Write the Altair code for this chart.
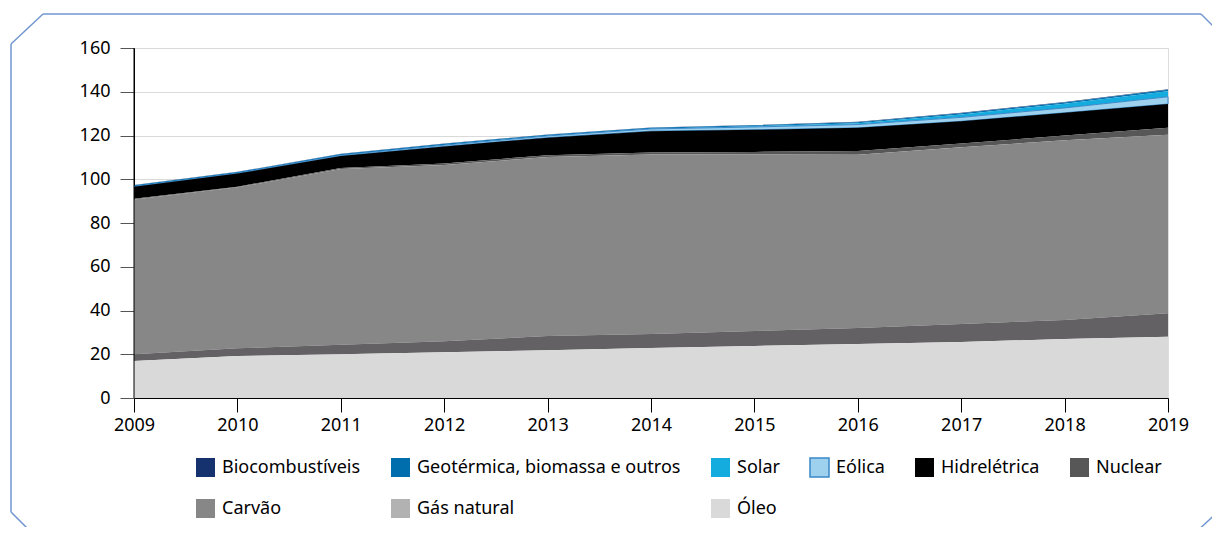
import altair as alt
import pandas as pd

anos = list(range(2009, 2020))

# valores (por fonte)
biocombustiveis = [0.1, 0.1, 0.2, 0.1, 0.1, 0.1, 0.1, 0.2, 0.2, 0.2, 0.2]
geotermica = [0.6, 0.5, 0.5, 0.5, 0.5, 0.5, 0.5, 0.5, 0.6, 0.6, 0.7]
solar = [0.0, 0.0, 0.0, 0.1, 0.1, 0.1, 0.3, 0.6, 1.3, 1.9, 2.5]
eolica = [0.1, 0.2, 0.4, 0.6, 0.8, 1.0, 1.3, 1.5, 1.8, 2.2, 3.3]
hidreletrica = [5.5, 6.0, 5.5, 7.8, 8.0, 9.8, 10.1, 10.6, 10.2, 10.4, 10.9]
nuclear = [0.3, 0.3, 0.4, 0.7, 0.8, 0.9, 1.2, 1.7, 1.7, 2.2, 3.1]
carvao = [70.8, 73.6, 80.3, 80.5, 81.9, 82.0, 80.7, 79.2, 80.8, 82.1, 81.7]
gas_natural = [3.1, 3.5, 4.4, 5.1, 6.5, 6.4, 6.8, 7.3, 8.2, 8.7, 10.7]
oleo = [16.9, 19.2, 20.0, 20.9, 21.8, 22.9, 23.8, 24.7, 25.6, 27.0, 28.0]

series = ["Biocombustíveis", "Geotérmica, biomassa e outros", "Solar", "Eólica",
          "Hidrelétrica", "Nuclear", "Carvão", "Gás natural", "Óleo"]
valores = [biocombustiveis, geotermica, solar, eolica, hidreletrica, nuclear,
           carvao, gas_natural, oleo]
cores = ["#15326e", "#006ead", "#14acdf", "#9dd1ee", "#000000", "#575757",
         "#878787", "#b2b2b2", "#d9d9d9"]
y_ticks = [0, 20, 40, 60, 80, 100, 120, 140, 160]

rows = []
for i, (s, vals) in enumerate(zip(series, valores)):
    for a, v in zip(anos, vals):
        rows.append({"ano": a, "serie": s, "valor": v, "ordem": len(series) - i})
df = pd.DataFrame(rows)

FONT = "Noto Sans"

area = alt.Chart(df).mark_area(interpolate="linear", strokeWidth=1).encode(
    x=alt.X("ano:Q", scale=alt.Scale(domain=[2009, 2019], nice=False),
            axis=alt.Axis(values=anos, format="d", title=None, grid=False,
                          tickSize=14, tickColor="black", domainColor="black",
                          labelFontSize=18, labelPadding=4, labelColor="black",
                          labelFont=FONT, labelFlush=False)),
    y=alt.Y("valor:Q", stack="zero", scale=alt.Scale(domain=[0, 160], nice=False),
            axis=alt.Axis(values=y_ticks, title=None, grid=True, gridColor="#d9d9d9",
                          tickSize=14, tickColor="#555555", domainColor="black",
                          labelFontSize=18, labelPadding=10, labelColor="black",
                          labelFont=FONT)),
    color=alt.when("datum.serie == 'Gás natural'").then(alt.value("#646164")).otherwise(
        alt.Color("serie:N", scale=alt.Scale(domain=series, range=cores),
                  legend=alt.Legend(
                      title=None, orient="none", legendX=61, legendY=409,
                      direction="horizontal", columns=6, gridAlign="each",
                      columnPadding=27, rowPadding=16, symbolType="square",
                      symbolSize=361, symbolOpacity=1, symbolStrokeWidth=1.5,
                      symbolStrokeColor=alt.ExprRef("datum.label == 'Eólica' ? '#3b88c8' : 'transparent'"),
                      labelFontSize=18, labelFont=FONT, labelColor="black",
                      labelOffset=6, labelLimit=400, padding=0))),
    stroke=alt.when("datum.serie == 'Eólica'").then(alt.value("#3b88c8")).otherwise(alt.value("transparent")),
    detail="serie:N",
    order=alt.Order("ordem:Q", sort="ascending"),
)

one = pd.DataFrame({"k": [0]})
eixo_y = alt.Chart(one).mark_rule(color="black", strokeWidth=1).encode(
    x=alt.value(0), y=alt.value(0), y2=alt.value(350))

BORDER = "#7096d1"
segs = [(-123, -4, -91, -34), (-91, -34, 1067, -34), (1067, -34, 1110, 9),
        (-123, -4, -123, 464), (-123, 464, -100, 487), (1059, 487, 1090, 458)]
borda = [alt.Chart(one).mark_rule(color=BORDER, strokeWidth=1.5).encode(
    x=alt.value(a), y=alt.value(b), x2=alt.value(c), y2=alt.value(d)) for a, b, c, d in segs]

chart = alt.layer(area, eixo_y, *borda).properties(
    width=1034, height=350,
    autosize=alt.AutoSizeParams(type="none"),
    padding={"left": 126, "top": 40, "right": 44, "bottom": 129},
).configure_view(stroke="#d9d9d9").configure(font=FONT)

chart.save("out.html", embed_options={"renderer": "svg", "actions": False})
